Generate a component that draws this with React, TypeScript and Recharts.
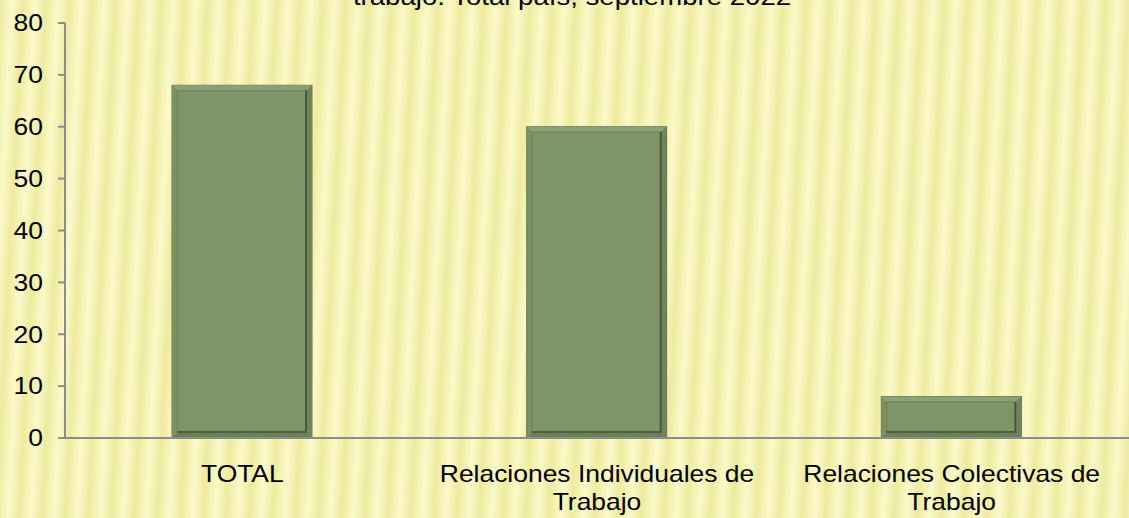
import React from "react";
import { BarChart, Bar, XAxis, YAxis } from "recharts";

const titleText = "trabajo. Total país, septiembre 2022";
const categories = ["TOTAL", "Relaciones Individuales de Trabajo", "Relaciones Colectivas de Trabajo"];
const categoryLines = [["TOTAL"], ["Relaciones Individuales de", "Trabajo"], ["Relaciones Colectivas de", "Trabajo"]];
const values = [68, 60, 8];
const yTicks = [0, 10, 20, 30, 40, 50, 60, 70, 80];
const boundaryTicks = [0, 1, 2, 3];

const data = categories.map((c, i) => ({ name: c, value: values[i], lines: categoryLines[i] }));

const W = 1129;
const H = 518;
const SX = 1.15;
const FONT = "'Liberation Sans', Arial, sans-serif";

const BevelBar = (props: any) => {
  const { x, y, width: w, height: h } = props;
  if (!h || h <= 0) return null;
  const b = Math.min(5, h / 4);
  const d = 2;
  return (
    <g>
      <rect x={x} y={y} width={w} height={h} fill="#7f9568" stroke="#627451" strokeWidth={1} />
      <polygon points={`${x},${y} ${x + w},${y} ${x + w - b},${y + b} ${x + b},${y + b}`} fill="#8ba174" />
      <polygon points={`${x},${y} ${x + b},${y + b} ${x + b},${y + h - b} ${x},${y + h}`} fill="#7b9163" />
      <polygon points={`${x + w},${y} ${x + w},${y + h} ${x + w - b},${y + h - b} ${x + w - b},${y + b}`} fill="#6f8459" />
      <polygon points={`${x},${y + h} ${x + w},${y + h} ${x + w - b},${y + h - b} ${x + b},${y + h - b}`} fill="#6c8056" />
      <rect x={x + w - b - d} y={y + b} width={d} height={Math.max(0, h - 2 * b)} fill="#48563a" />
      <rect x={x + b} y={y + h - b - d} width={Math.max(0, w - 2 * b)} height={d} fill="#4f5e3f" />
      <rect x={x + b} y={y + b} width={Math.max(0, w - 2 * b - d)} height={1} fill="#6d8257" />
      <rect x={x + b} y={y + b} width={1} height={Math.max(0, h - 2 * b - d)} fill="#6d8257" />
    </g>
  );
};

const YTick = (props: any) => {
  const { x, y, payload } = props;
  return (
    <g transform={`translate(${x},${y})`}>
      <text transform={`scale(${SX},1)`} textAnchor="end" dy="0.36em" fontSize={23} fontFamily={FONT} fill="#000">
        {payload.value}
      </text>
    </g>
  );
};

const XTick = (props: any) => {
  const { x, y, payload } = props;
  const row = data.find((d) => d.name === payload.value);
  const lines = row ? row.lines : [payload.value];
  return (
    <g transform={`translate(${x},${y})`}>
      {lines.map((l: string, i: number) => (
        <text key={i} transform={`scale(${SX},1)`} x={0} y={36 + i * 28} textAnchor="middle" fontSize={23} fontFamily={FONT} fill="#000">
          {l}
        </text>
      ))}
    </g>
  );
};

export default function App() {
  return (
    <div
      style={{
        position: "fixed",
        left: 0,
        top: 0,
        width: W,
        height: H,
        overflow: "hidden",
        background:
          "repeating-linear-gradient(93deg, #eeea9f 0px, #f5f2b4 6px, #fbf9c9 12px, #f6f3b8 17px, #eeea9f 23px)",
      }}
    >
      <svg style={{ position: "absolute", left: 0, top: 0 }} width={W} height={30}>
        <text transform={`translate(572,5) scale(${SX},1)`} textAnchor="middle" fontSize={24} fontFamily={FONT} fill="#000">
          {titleText}
        </text>
      </svg>
      <BarChart width={W} height={H} data={data} margin={{ top: 23, right: 0, left: 0, bottom: 0 }} barSize={140}>
        <XAxis
          dataKey="name"
          xAxisId="cat"
          height={80}
          axisLine={{ stroke: "#8c8c8c", strokeWidth: 2 }}
          tickLine={false}
          tick={<XTick />}
          interval={0}
        />
        <XAxis
          xAxisId="edge"
          type="number"
          domain={[0, 3]}
          ticks={boundaryTicks}
          height={0}
          axisLine={false}
          tickLine={{ stroke: "#8c8c8c", strokeWidth: 2 }}
          tickSize={7}
          tick={false}
          orientation="bottom"
        />
        <YAxis
          width={65}
          domain={[0, 80]}
          ticks={yTicks}
          interval={0}
          axisLine={{ stroke: "#8c8c8c", strokeWidth: 2 }}
          tickLine={{ stroke: "#8c8c8c", strokeWidth: 2 }}
          tickSize={7}
          tickMargin={15}
          tick={<YTick />}
        />
        <Bar dataKey="value" xAxisId="cat" fill="#7f9568" shape={<BevelBar />} isAnimationActive={false} />
      </BarChart>
    </div>
  );
}
